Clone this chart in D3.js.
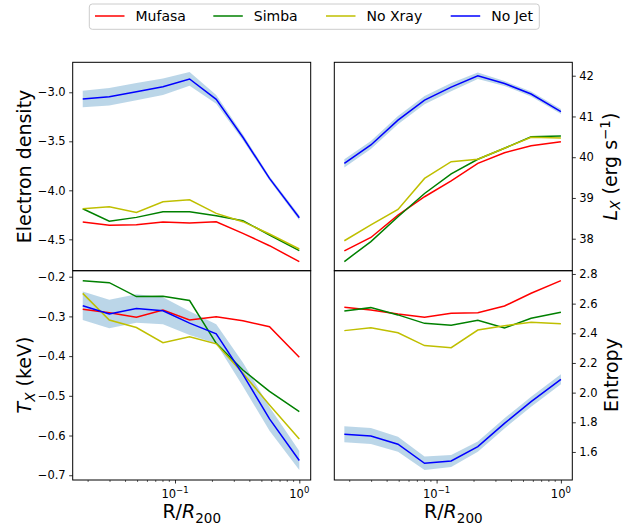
<!DOCTYPE html>
<html>
<head>
<meta charset="utf-8"/>
<title>Profiles</title>
<script src="https://d3js.org/d3.v7.min.js"></script>
<style>
  body { margin: 0; background: #fff; }
  svg text { font-family: "DejaVu Sans", sans-serif; fill: #000; }
</style>
</head>
<body>
<div id="chart"></div>
<script>
// radial bins (R/R200)
var radius = [0.0181, 0.0296, 0.0489, 0.0800, 0.1310, 0.2146, 0.3516, 0.5759, 1.0];

var seriesNames = ["Mufasa", "Simba", "No Xray", "No Jet"];

// electron density (top left)
var densMufasa = [-4.323, -4.357, -4.351, -4.323, -4.334, -4.320, -4.439, -4.565, -4.728];
var densSimba  = [-4.188, -4.316, -4.276, -4.218, -4.218, -4.259, -4.310, -4.456, -4.616];
var densNoXray = [-4.188, -4.167, -4.225, -4.116, -4.096, -4.235, -4.320, -4.446, -4.599];
var densNoJet  = [-3.068, -3.045, -2.994, -2.943, -2.864, -3.072, -3.459, -3.878, -4.280];
var densNoJetErr = [0.085, 0.09, 0.088, 0.085, 0.07, 0.045, 0.03, 0.022, 0.025];

// X-ray luminosity (top right)
var lxMufasa = [37.70, 38.03, 38.58, 39.03, 39.42, 39.85, 40.11, 40.28, 40.38];
var lxSimba  = [37.44, 37.93, 38.54, 39.11, 39.59, 39.95, 40.22, 40.50, 40.52];
var lxNoXray = [37.95, 38.34, 38.72, 39.48, 39.89, 39.95, 40.22, 40.49, 40.47];
var lxNoJet  = [39.85, 40.30, 40.91, 41.40, 41.72, 42.00, 41.81, 41.55, 41.12];
var lxNoJetErr = [0.1, 0.1, 0.1, 0.1, 0.1, 0.08, 0.06, 0.06, 0.06];

// temperature (bottom left)
var txMufasa = [-0.282, -0.291, -0.302, -0.284, -0.309, -0.301, -0.311, -0.326, -0.403];
var txSimba  = [-0.210, -0.215, -0.250, -0.249, -0.260, -0.368, -0.435, -0.489, -0.540];
var txNoXray = [-0.242, -0.309, -0.328, -0.366, -0.351, -0.369, -0.443, -0.523, -0.609];
var txNoJet  = [-0.273, -0.294, -0.280, -0.286, -0.317, -0.344, -0.446, -0.558, -0.663];
var txNoJetErr = [0.036, 0.036, 0.036, 0.034, 0.03, 0.024, 0.03, 0.03, 0.024];

// entropy (bottom right)
var entMufasa = [2.575, 2.557, 2.530, 2.508, 2.535, 2.539, 2.584, 2.670, 2.755];
var entSimba  = [2.551, 2.573, 2.524, 2.467, 2.454, 2.488, 2.436, 2.501, 2.542];
var entNoXray = [2.418, 2.438, 2.404, 2.317, 2.303, 2.422, 2.451, 2.474, 2.465];
var entNoJet  = [1.719, 1.708, 1.652, 1.524, 1.539, 1.636, 1.793, 1.939, 2.090];
var entNoJetErr = [0.054, 0.054, 0.05, 0.045, 0.04, 0.035, 0.034, 0.034, 0.034];

// tick values
var densTicks = [-3.0, -3.5, -4.0, -4.5];
var lxTicks = [38, 39, 40, 41, 42];
var txTicks = [-0.2, -0.3, -0.4, -0.5, -0.6, -0.7];
var entTicks = [1.6, 1.8, 2.0, 2.2, 2.4, 2.6, 2.8];
var xTicks = [0.1, 1];

var colors = {"Mufasa": "#ff0000", "Simba": "#008000", "No Xray": "#bfbf00", "No Jet": "#0000ff"};

var W = 624, H = 530;
var svg = d3.select("#chart").append("svg")
    .attr("width", W).attr("height", H);

var colX = [[72.7, 310.7], [334.3, 572.3]];
var rowY = [[62.3, 270.7], [270.7, 480]];

var panels = [
  {col: 0, row: 0, dom: [-4.820, -2.694], ticks: densTicks, fmt: d3.format(".1f"), side: "left",
   data: [densMufasa, densSimba, densNoXray, densNoJet], err: densNoJetErr},
  {col: 1, row: 0, dom: [37.215, 42.329], ticks: lxTicks, fmt: d3.format("d"), side: "right",
   data: [lxMufasa, lxSimba, lxNoXray, lxNoJet], err: lxNoJetErr},
  {col: 0, row: 1, dom: [-0.712, -0.1849], ticks: txTicks, fmt: d3.format(".1f"), side: "left",
   data: [txMufasa, txSimba, txNoXray, txNoJet], err: txNoJetErr},
  {col: 1, row: 1, dom: [1.411, 2.822], ticks: entTicks, fmt: d3.format(".1f"), side: "right",
   data: [entMufasa, entSimba, entNoXray, entNoJet], err: entNoJetErr}
];

// minor ticks for log axis
var minorTicks = [];
[0.01, 0.1].forEach(function(dec) {
  for (var k = 2; k <= 9; k++) minorTicks.push(dec * k);
});

panels.forEach(function(p) {
  var x = d3.scaleLog().domain([0.01503, 1.235]).range(colX[p.col]);
  var y = d3.scaleLinear().domain(p.dom).range([rowY[p.row][1], rowY[p.row][0]]);
  var g = svg.append("g");

  // clip
  var cid = "clip" + p.col + p.row;
  svg.append("clipPath").attr("id", cid).append("rect")
    .attr("x", colX[p.col][0]).attr("y", rowY[p.row][0])
    .attr("width", colX[p.col][1] - colX[p.col][0])
    .attr("height", rowY[p.row][1] - rowY[p.row][0]);
  var plot = g.append("g").attr("clip-path", "url(#" + cid + ")");

  // shaded band for No Jet
  var jet = p.data[3];
  plot.append("path")
    .datum(radius.map(function(r, i) { return {r: r, lo: jet[i] - p.err[i], hi: jet[i] + p.err[i]}; }))
    .attr("fill", "#1f77b4").attr("fill-opacity", 0.3)
    .attr("d", d3.area().x(function(d) { return x(d.r); })
      .y0(function(d) { return y(d.lo); }).y1(function(d) { return y(d.hi); }));

  p.data.forEach(function(vals, s) {
    plot.append("path")
      .datum(vals)
      .attr("fill", "none")
      .attr("stroke", colors[seriesNames[s]])
      .attr("stroke-width", 1.5)
      .attr("d", d3.line().x(function(d, i) { return x(radius[i]); }).y(function(d) { return y(d); }));
  });

  // y axis
  var ax = p.side === "left" ? d3.axisLeft(y) : d3.axisRight(y);
  ax.tickValues(p.ticks).tickFormat(p.fmt).tickSize(3.5).tickPadding(3.5);
  var yg = g.append("g")
    .attr("transform", "translate(" + (p.side === "left" ? colX[p.col][0] : colX[p.col][1]) + ",0)")
    .call(ax);
  yg.select(".domain").remove();
  yg.selectAll("text").style("font-size", "11.5px");
  yg.selectAll("line").attr("stroke", "#000").attr("stroke-width", 0.8);

  // x axis on bottom row
  if (p.row === 1) {
    var xg = g.append("g").attr("transform", "translate(0," + rowY[1][1] + ")");
    xg.call(d3.axisBottom(x).tickValues(xTicks).tickSize(3.5).tickPadding(3.5).tickFormat(""));
    xg.select(".domain").remove();
    xg.selectAll("line").attr("stroke", "#000").attr("stroke-width", 0.8);
    xg.selectAll(".minor").data(minorTicks).enter().append("line")
      .attr("x1", function(d) { return x(d); }).attr("x2", function(d) { return x(d); })
      .attr("y1", 0).attr("y2", 2).attr("stroke", "#000").attr("stroke-width", 0.6);
    xTicks.forEach(function(t) {
      var txt = xg.append("text").attr("x", x(t)).attr("y", 18)
        .attr("text-anchor", "middle").style("font-size", "11.5px");
      txt.append("tspan").text("10");
      txt.append("tspan").attr("dy", -5).style("font-size", "8.5px")
        .text(t === 1 ? "0" : "\u22121");
    });
    // x label
    var xl = g.append("text").attr("x", (colX[p.col][0] + colX[p.col][1]) / 2).attr("y", 518)
      .attr("text-anchor", "middle").style("font-size", "19px");
    xl.append("tspan").text("R/");
    xl.append("tspan").style("font-style", "italic").text("R");
    xl.append("tspan").attr("dy", 5).style("font-size", "13.5px").text("200");
  }

  // frame
  g.append("rect")
    .attr("x", colX[p.col][0]).attr("y", rowY[p.row][0])
    .attr("width", colX[p.col][1] - colX[p.col][0])
    .attr("height", rowY[p.row][1] - rowY[p.row][0])
    .attr("fill", "none").attr("stroke", "#000").attr("stroke-width", 1);
});

// y labels
function vlabel(xp, yp, build) {
  var t = svg.append("text")
    .attr("transform", "translate(" + xp + "," + yp + ") rotate(-90)")
    .attr("text-anchor", "middle").style("font-size", "19px");
  build(t);
}
vlabel(31, 166.5, function(t) { t.text("Electron density"); });
vlabel(31, 375, function(t) {
  t.append("tspan").style("font-style", "italic").text("T");
  t.append("tspan").attr("dy", 4).style("font-size", "13.5px").style("font-style", "italic").text("X");
  t.append("tspan").attr("dy", -4).text(" (keV)");
});
vlabel(617, 166.5, function(t) {
  t.append("tspan").style("font-style", "italic").text("L");
  t.append("tspan").attr("dy", 3).style("font-size", "13.5px").style("font-style", "italic").text("X");
  t.append("tspan").attr("dy", -3).text(" (erg s");
  t.append("tspan").attr("dy", -7).style("font-size", "13.5px").text("\u22121");
  t.append("tspan").attr("dy", 7).text(")");
});
vlabel(618, 375, function(t) { t.text("Entropy"); });

// legend
var lg = svg.append("g");
lg.append("rect").attr("x", 89.3).attr("y", 4).attr("width", 450).attr("height", 25.3)
  .attr("rx", 3).attr("fill", "#fff").attr("stroke", "#cccccc").attr("stroke-width", 1);
var legX = [95, 213.3, 326, 450.7];
seriesNames.forEach(function(n, i) {
  lg.append("line").attr("x1", legX[i]).attr("x2", legX[i] + 29.5)
    .attr("y1", 16).attr("y2", 16)
    .attr("stroke", colors[n]).attr("stroke-width", 1.5);
  lg.append("text").attr("x", legX[i] + 40.5).attr("y", 21)
    .style("font-size", "14px").text(n);
});
</script>
</body>
</html>
